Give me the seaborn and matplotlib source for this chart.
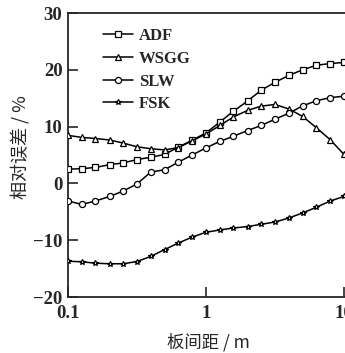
import numpy as np
import pandas as pd
import matplotlib
matplotlib.use("Agg")
import matplotlib.pyplot as plt
import seaborn as sns

spacing = [0.1, 0.126, 0.158, 0.2, 0.251, 0.316, 0.398, 0.501, 0.631, 0.794,
           1.0, 1.26, 1.58, 2.0, 2.51, 3.16, 3.98, 5.01, 6.31, 7.94, 10.0]
adf = [2.5, 2.6, 2.8, 3.3, 3.6, 4.2, 4.6, 5.1, 6.4, 7.6,
       8.9, 10.8, 12.7, 14.5, 16.4, 17.8, 19.0, 20.0, 20.8, 21.1, 21.3]
wsgg = [8.45, 8.1, 7.9, 7.65, 7.1, 6.45, 6.1, 5.9, 6.3, 7.5,
        8.7, 10.2, 11.7, 12.85, 13.6, 13.9, 13.1, 11.8, 9.8, 7.7, 5.1]
slw = [-3.1, -3.7, -3.1, -2.3, -1.35, -0.1, 2.0, 2.4, 3.75, 5.0,
       6.25, 7.4, 8.3, 9.3, 10.2, 11.3, 12.35, 13.65, 14.55, 15.1, 15.35]
fsk = [-13.7, -13.8, -14.05, -14.15, -14.15, -13.75, -12.85, -11.65, -10.5, -9.45,
       -8.6, -8.2, -7.85, -7.6, -7.2, -6.8, -6.1, -5.2, -4.2, -3.1, -2.3]

series_names = ["ADF", "WSGG", "SLW", "FSK"]
series_vals = [adf, wsgg, slw, fsk]
markers = ["s", "^", "o", "*"]
msizes = [3.8, 4.4, 4.4, 4.2]

ylabel = "相对误差 / %"
xlabel = "板间距 / m"
yticks = [-20, -10, 0, 10, 20, 30]
ytick_labels = ["\u221220", "\u221210", "0", "10", "20", "30"]
xticks = [0.1, 1, 10]
xticklabels = ["0.1", "1", "10"]

sns.set_style("ticks")
plt.rcParams["font.family"] = ["Liberation Serif", "Noto Sans CJK SC"]

W, H = 345, 353
fig = plt.figure(figsize=(W / 100, H / 100), dpi=100)
x10_px = 344
decade = (x10_px - 68) / 2.0
left_px, right_px = 68, x10_px + decade * np.log10(10.5 / 10)
top_px, bot_px = 13, 297
ax = fig.add_axes([left_px / W, 1 - bot_px / H, (right_px - left_px) / W, (bot_px - top_px) / H])

rows = []
for name, vals in zip(series_names, series_vals):
    for x, y in zip(spacing, vals):
        rows.append({"spacing": x, "err": y, "method": name})
df = pd.DataFrame(rows)

for name, m, ms in zip(series_names, markers, msizes):
    sub = df[df["method"] == name]
    sns.lineplot(data=sub, x="spacing", y="err", ax=ax, color="black", lw=1.1,
                 marker=m, markersize=ms, markerfacecolor="white",
                 markeredgecolor="black", markeredgewidth=0.9, label=name,
                 clip_on=True, zorder=3)

ax.set_xscale("log")
ax.set_xlim(0.1, 10.5)
ax.set_ylim(-20, 30)
ax.set_xticks(xticks)
ax.set_xticklabels(xticklabels)
ax.xaxis.set_minor_locator(matplotlib.ticker.NullLocator())
ax.set_yticks(yticks)
ax.set_yticklabels(ytick_labels)
ax.tick_params(direction="in", length=7, width=1.2, labelsize=13.5)
ax.tick_params(axis="x", pad=6)
ax.tick_params(axis="y", pad=4)
for lab in ax.get_xticklabels() + ax.get_yticklabels():
    lab.set_fontweight("bold")
for s in ax.spines.values():
    s.set_linewidth(1.3)
    s.set_visible(True)

ax.set_xlabel(xlabel, fontsize=12.5, family=["Noto Sans CJK SC"])
ax.set_ylabel(ylabel, fontsize=13, family=["Noto Sans CJK SC"])
ax.xaxis.set_label_coords((208 - left_px) / (right_px - left_px), -(342 - bot_px) / (bot_px - top_px), transform=ax.transAxes)
ax.xaxis.label.set_va("center")
ax.yaxis.set_label_coords(-(left_px - 20) / (right_px - left_px), (bot_px - 147) / (bot_px - top_px), transform=ax.transAxes)
ax.yaxis.label.set_va("center")

leg = ax.legend(loc="upper left", bbox_to_anchor=(0.1, 0.97), frameon=False,
                handlelength=1.8, handletextpad=0.4, labelspacing=0.4,
                borderaxespad=0, prop={"family": "Liberation Serif", "weight": "bold", "size": 12})

fig.savefig("out.png", dpi=100)
